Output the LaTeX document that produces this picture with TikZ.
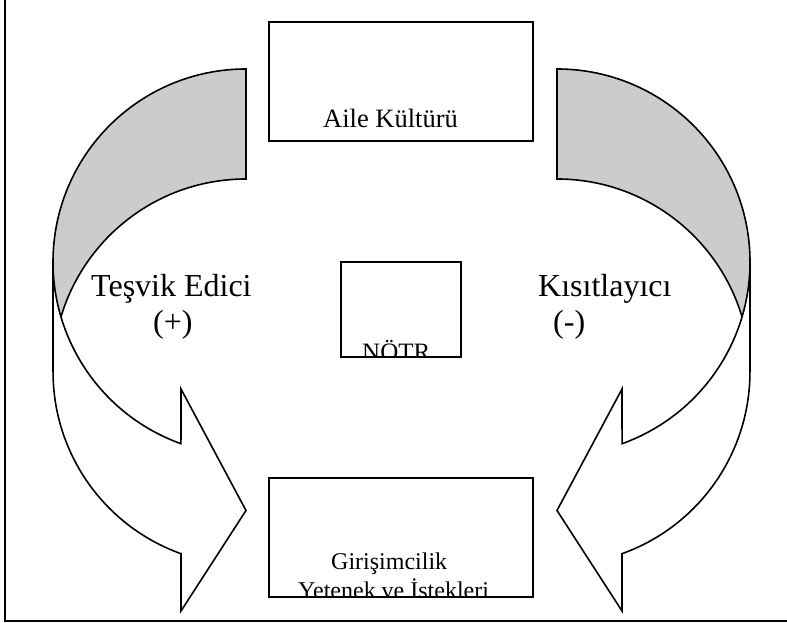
\documentclass[tikz,border=0pt]{standalone}
\usepackage{fontspec}
\setmainfont{Liberation Serif}
\definecolor{bandgray}{RGB}{204,204,204}
\begin{document}
\begin{tikzpicture}[x=1pt,y=1pt,
  shapeline/.style={draw=black, line width=1.6pt, line join=miter},
  band/.style={shapeline, fill=bandgray},
  body/.style={shapeline, fill=white},
  boxnode/.style={draw=black, line width=1.8pt, inner sep=0pt},
  biglbl/.style={anchor=base west, inner sep=0pt, font=\fontsize{32}{38}\selectfont},
  boxlbl/.style={anchor=base west, inner sep=0pt, font=\fontsize{24}{28}\selectfont},
  framel/.style={draw=black, line width=2.2pt}
]
\useasboundingbox (0,0) rectangle (787,623);
% outer frame (only left and bottom sides visible)
\coordinate (ftop) at (5,623);
\coordinate (fcorner) at (5,2);
\coordinate (fright) at (787,2);
\draw[framel] (ftop) -- (fcorner) -- (fright);

% left curved arrow
\draw[band] (246,554) arc[start angle=90, end angle=180, radius=193] -- (53,251)
  arc[start angle=180, end angle=90, radius=193] -- cycle;
\draw[body] (53,361) arc[start angle=180, end angle=250.3, radius=193] -- (181,234)
  -- (246,112.5) -- (181,12) -- (181,69.3)
  arc[start angle=250.3, end angle=180, radius=193] -- cycle;

% right curved arrow
\draw[band] (557,554) arc[start angle=90, end angle=0, radius=193] -- (750,251)
  arc[start angle=0, end angle=90, radius=193] -- cycle;
\draw[body] (750,361) arc[start angle=0, end angle=-70.3, radius=193] -- (622,234)
  -- (557,112.5) -- (622,12) -- (622,69.3)
  arc[start angle=-70.3, end angle=0, radius=193] -- cycle;

% boxes
\node[boxnode, minimum width=264pt, minimum height=119pt] (aile) at (401,541.5) {};
\node[boxnode, minimum width=120pt, minimum height=95pt] (notr) at (401,313.5) {};
\node[boxnode, minimum width=264pt, minimum height=119pt] (giri) at (401,85.5) {};

% box texts
\node[boxlbl, font=\fontsize{26.5}{30}\selectfont] (ailetxt) at (323,495) {Aile Kültürü};
\begin{scope}
  \clip (notr.south west) rectangle (notr.north east);
  \node[boxlbl, font=\fontsize{25}{30}\selectfont] (notrtxt) at (362,262) {NÖTR};
\end{scope}
\begin{scope}
  \clip (giri.south west) rectangle (giri.north east);
  \node[boxlbl] (giritxt1) at (331,53) {Girişimcilik};
  \node[boxlbl] (giritxt2) at (298,24.5) {Yetenek ve İstekleri};
\end{scope}

% side labels
\node[biglbl] (tesvik) at (91,326) {Teşvik Edici};
\node[biglbl] (plus) at (153,290) {(+)};
\node[biglbl] (kisit) at (538,326) {Kısıtlayıcı};
\node[biglbl] (minus) at (553,290) {(-)};
\end{tikzpicture}
\end{document}
